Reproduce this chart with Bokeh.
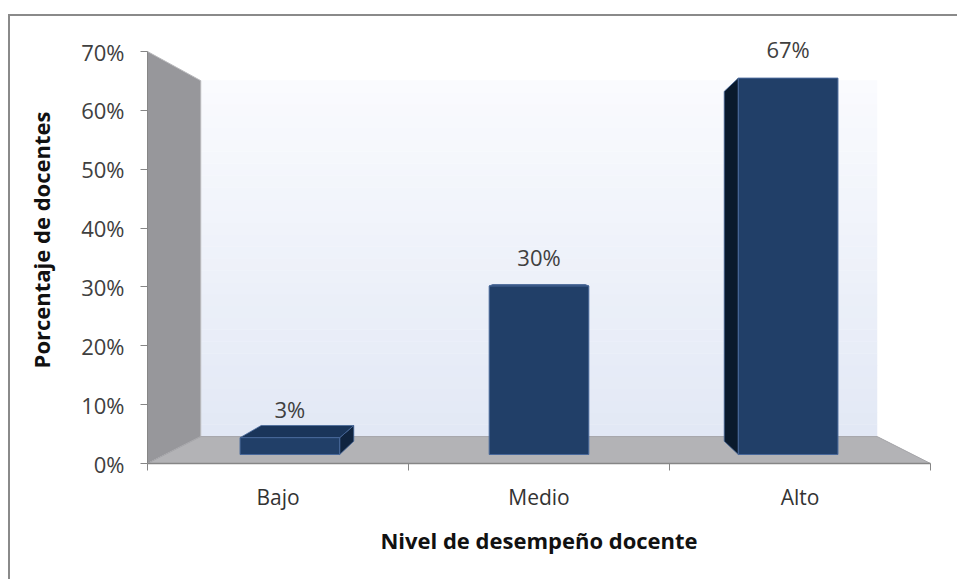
import math
from bokeh.plotting import figure
from bokeh.models import FixedTicker, Range1d, ColumnDataSource, LabelSet
from bokeh.core.properties import value
from bokeh.embed import file_html
from bokeh.resources import INLINE

# ---------------- data ----------------
categories = ["Bajo", "Medio", "Alto"]
porcentajes = [3, 30, 67]
data_labels = ["3%", "30%", "67%"]
y_ticks = [0, 10, 20, 30, 40, 50, 60, 70]
y_tick_labels = ["0%", "10%", "20%", "30%", "40%", "50%", "60%", "70%"]
x_title = "Nivel de desempeño docente"
y_title = "Porcentaje de docentes"

# ---------------- 3D projection settings ----------------
Y_MAX = 70
Y_TOP = 75.95                  # range end so that the frame reaches the top border
N_CAT = len(categories)
VX, VY = N_CAT / 2.0, 33.6     # vanishing point (data units)
S_WALL = 0.864                 # depth scale of the back wall
S_BAR_FRONT = 0.9545           # depth scale of bar front faces
S_BAR_BACK = 0.887             # depth scale of bar back faces
HALF_W = 0.2                   # half bar width (category units)


def proj(x, y, s):
    return VX + s * (x - VX), VY + s * (y - VY)


def quad(pts):
    xs = [p[0] for p in pts]
    ys = [p[1] for p in pts]
    return xs, ys


FONT = "Open Sans"

p = figure(width=949, height=565, output_backend="svg", toolbar_location=None,
           x_range=Range1d(0, N_CAT), y_range=Range1d(0, Y_TOP),
           min_border_left=137, min_border_right=29, min_border_top=0,
           min_border_bottom=118, background_fill_color="white",
           border_fill_color="white", outline_line_color=None)
p.styles = {"margin-top": "16px", "margin-left": "10px",
            "box-shadow": "-2px -2px 0 0 #8a8a8a"}
p.grid.visible = False

# ---------------- back wall (vertical gradient) ----------------
n_strips = 30
wx0, wy0 = proj(0, 0, S_WALL)
wx1, wy1 = proj(N_CAT, Y_MAX, S_WALL)
c_bot = (226, 232, 245)
c_top = (250, 251, 254)
sx, sy, sc = [], [], []
for i in range(n_strips):
    t0 = i / n_strips
    t1 = (i + 1) / n_strips
    ya_ = wy0 + (wy1 - wy0) * t0
    yb_ = wy0 + (wy1 - wy0) * t1 + 0.05
    tm = (t0 + t1) / 2
    col = tuple(int(round(c_bot[k] + (c_top[k] - c_bot[k]) * tm)) for k in range(3))
    sx.append([wx0, wx1, wx1, wx0])
    sy.append([ya_, ya_, yb_, yb_])
    sc.append("#%02x%02x%02x" % col)
p.patches(sx, sy, fill_color=sc, line_color=None)

# ---------------- left wall ----------------
lx, ly = quad([proj(0, 0, 1), proj(0, Y_MAX, 1), proj(0, Y_MAX, S_WALL), proj(0, 0, S_WALL)])
p.patch(lx, ly, fill_color="#97979b", line_color="#b9b9bc", line_width=1)

# ---------------- floor ----------------
fx, fy = quad([proj(0, 0, 1), proj(N_CAT, 0, 1), proj(N_CAT, 0, S_WALL), proj(0, 0, S_WALL)])
p.patch(fx, fy, fill_color="#b3b3b6", line_color="#a4a4a8", line_width=1)

# ---------------- bars ----------------
FRONT = "#213f68"
TOP = "#1a355a"
SIDE_R = "#10243f"
SIDE_L = "#0a1a2d"
EDGE = "#48689a"

front_x, front_y, top_x, top_y, side_x, side_y, side_c = [], [], [], [], [], [], []
lab_x, lab_y = [], []
for i, v in enumerate(porcentajes):
    xc = i + 0.5
    x0, x1 = xc - HALF_W, xc + HALF_W
    if xc < VX - 0.05:
        pts = [proj(x1, 0, S_BAR_FRONT), proj(x1, v, S_BAR_FRONT), proj(x1, v, S_BAR_BACK), proj(x1, 0, S_BAR_BACK)]
        xs, ys = quad(pts)
        side_x.append(xs); side_y.append(ys); side_c.append(SIDE_R)
    elif xc > VX + 0.05:
        pts = [proj(x0, 0, S_BAR_FRONT), proj(x0, v, S_BAR_FRONT), proj(x0, v, S_BAR_BACK), proj(x0, 0, S_BAR_BACK)]
        xs, ys = quad(pts)
        side_x.append(xs); side_y.append(ys); side_c.append(SIDE_L)
    if v < VY:
        pts = [proj(x0, v, S_BAR_FRONT), proj(x1, v, S_BAR_FRONT), proj(x1, v, S_BAR_BACK), proj(x0, v, S_BAR_BACK)]
        xs, ys = quad(pts)
        top_x.append(xs); top_y.append(ys)
    pts = [proj(x0, 0, S_BAR_FRONT), proj(x1, 0, S_BAR_FRONT), proj(x1, v, S_BAR_FRONT), proj(x0, v, S_BAR_FRONT)]
    xs, ys = quad(pts)
    front_x.append(xs); front_y.append(ys)
    lx_, ly_ = proj(xc, v, S_BAR_FRONT)
    lab_x.append(lx_); lab_y.append(ly_)

if side_x:
    p.patches(side_x, side_y, fill_color=side_c, line_color=EDGE, line_width=0.8)
if top_x:
    p.patches(top_x, top_y, fill_color=TOP, line_color=EDGE, line_width=0.8)
p.patches(front_x, front_y, fill_color=FRONT, line_color=EDGE, line_width=1)

src = ColumnDataSource(dict(x=lab_x, y=lab_y, t=data_labels))
p.add_layout(LabelSet(x="x", y="y", text="t", source=src, text_align="center",
                      text_baseline="bottom", y_offset=14, text_font=value(FONT),
                      text_font_size="22px", text_color="#404040"))

# ---------------- axes ----------------
yax = p.yaxis[0]
yax.ticker = FixedTicker(ticks=y_ticks, minor_ticks=[])
yax.major_label_overrides = {t: l for t, l in zip(y_ticks, y_tick_labels)}
yax.bounds = (0, Y_MAX)
yax.major_tick_out = 7
yax.major_tick_in = 0
yax.major_tick_line_color = "#868686"
yax.axis_line_color = "#868686"
yax.major_label_standoff = 16
yax.major_label_text_font = FONT
yax.major_label_text_font_size = "22px"
yax.major_label_text_color = "#404040"
yax.axis_label = y_title
yax.axis_label_text_font = FONT
yax.axis_label_text_font_style = "bold"
yax.axis_label_text_font_size = "22px"
yax.axis_label_text_color = "#111111"
yax.axis_label_standoff = 22

xax = p.xaxis[0]
xax.ticker = FixedTicker(ticks=[i + 0.5 for i in range(N_CAT)],
                         minor_ticks=list(range(N_CAT + 1)))
xax.major_label_overrides = {i + 0.5: c for i, c in enumerate(categories)}
xax.major_tick_out = 0
xax.major_tick_in = 0
xax.minor_tick_out = 7
xax.minor_tick_in = 0
xax.minor_tick_line_color = "#868686"
xax.axis_line_color = "#868686"
xax.axis_line_width = 1.5
xax.major_label_standoff = 12
xax.major_label_text_font = FONT
xax.major_label_text_font_size = "21px"
xax.major_label_text_color = "#333333"
xax.axis_label = x_title
xax.axis_label_text_font = FONT
xax.axis_label_text_font_style = "bold"
xax.axis_label_text_font_size = "22px"
xax.axis_label_text_color = "#111111"
xax.axis_label_standoff = 11

open("out.html", "w").write(file_html(p, INLINE))
